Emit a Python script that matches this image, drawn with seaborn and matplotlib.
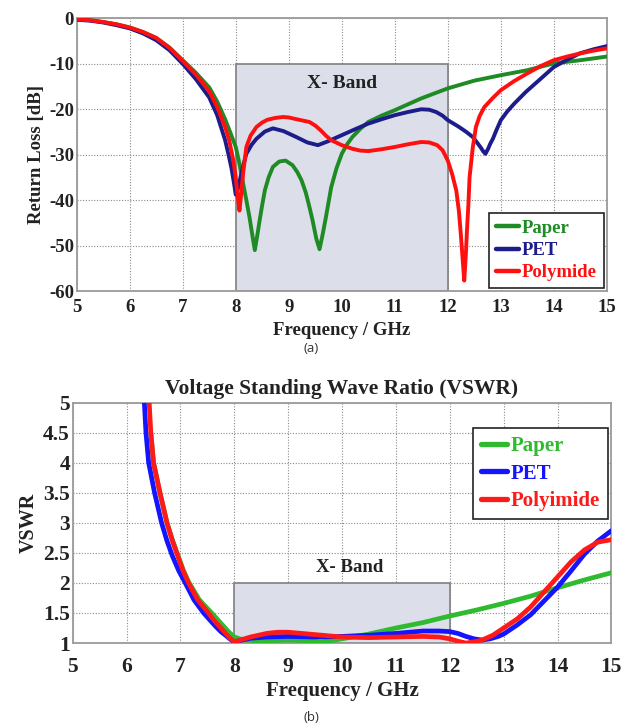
import numpy as np
import pandas as pd
import matplotlib
matplotlib.use("Agg")
import matplotlib.pyplot as plt
from matplotlib.patches import Rectangle
import seaborn as sns

# ---- Return loss (dB) vs frequency (GHz) ----
paper_rl_f = [5.0, 5.25, 5.5, 5.75, 6.0, 6.25, 6.5, 6.75, 7.0, 7.25, 7.5, 7.65, 7.8, 7.9, 8.0,
              8.07, 8.14, 8.2, 8.26, 8.31, 8.36, 8.41, 8.45, 8.5, 8.55, 8.62, 8.7, 8.82, 8.94,
              9.07, 9.16, 9.24, 9.32, 9.39, 9.45, 9.52, 9.58, 9.64, 9.7, 9.75, 9.8, 9.9, 10.0,
              10.1, 10.2, 10.35, 10.5, 10.75, 11.0, 11.25, 11.5, 11.75, 12.0, 12.5, 13.0, 13.5,
              14.0, 14.5, 15.0]
paper_rl = [-0.2, -0.4, -0.8, -1.3, -2.0, -3.0, -4.3, -6.4, -9.2, -12.0, -15.2, -18.3, -22.2,
            -25.2, -28.3, -32.0, -36.4, -40.0, -43.8, -47.5, -51.0, -47.5, -44.5, -41.0, -37.8,
            -35.0, -32.7, -31.5, -31.3, -32.3, -33.8, -35.6, -38.3, -41.5, -44.5, -48.5, -50.8,
            -47.5, -43.8, -40.5, -37.2, -33.0, -29.8, -27.7, -26.1, -24.3, -22.8, -21.4, -20.2,
            -18.9, -17.6, -16.5, -15.4, -13.7, -12.5, -11.4, -9.9, -9.2, -8.4]

pet_rl_f = [5.0, 5.25, 5.5, 5.75, 6.0, 6.25, 6.5, 6.75, 7.0, 7.25, 7.5, 7.65, 7.8, 7.86, 7.92,
            7.97, 8.0, 8.04, 8.1, 8.15, 8.2, 8.3, 8.39, 8.55, 8.7, 8.9, 9.14, 9.35, 9.55, 9.75,
            10.0, 10.25, 10.49, 10.75, 11.0, 11.25, 11.5, 11.65, 11.78, 11.9, 12.0, 12.1, 12.2,
            12.35, 12.47, 12.55, 12.62, 12.67, 12.71, 12.76, 12.8, 12.85, 12.92, 13.0, 13.12,
            13.25, 13.47, 13.75, 14.0, 14.25, 14.49, 14.75, 15.0]
pet_rl = [-0.3, -0.5, -0.9, -1.5, -2.2, -3.3, -4.8, -7.0, -10.0, -13.4, -17.4, -21.3, -26.8,
          -29.8, -33.0, -36.5, -38.8, -37.5, -34.5, -32.0, -29.8, -27.8, -26.5, -24.9, -24.2,
          -24.8, -26.1, -27.3, -27.9, -27.0, -25.7, -24.4, -23.2, -22.2, -21.3, -20.6, -20.0,
          -20.1, -20.6, -21.4, -22.4, -23.1, -23.8, -25.0, -26.1, -27.3, -28.4, -29.3, -29.8,
          -28.7, -27.6, -26.5, -24.5, -22.4, -20.5, -18.8, -16.2, -13.3, -10.7, -9.1, -7.7,
          -6.8, -6.1]

poly_rl_f = [5.0, 5.25, 5.5, 5.75, 6.0, 6.25, 6.5, 6.75, 7.0, 7.25, 7.5, 7.65, 7.8, 7.88, 7.95,
             8.0, 8.04, 8.07, 8.1, 8.14, 8.2, 8.28, 8.39, 8.5, 8.6, 8.75, 8.89, 9.0, 9.15, 9.39,
             9.5, 9.6, 9.7, 9.8, 10.0, 10.2, 10.35, 10.5, 10.75, 11.0, 11.25, 11.5, 11.65, 11.8,
             11.9, 12.0, 12.08, 12.16, 12.21, 12.25, 12.28, 12.31, 12.34, 12.36, 12.39, 12.41,
             12.47, 12.53, 12.6, 12.69, 12.85, 13.0, 13.25, 13.5, 13.75, 14.0, 14.25, 14.5,
             14.75, 15.0]
poly_rl = [-0.2, -0.4, -0.8, -1.3, -2.0, -3.0, -4.3, -6.5, -9.4, -12.4, -16.0, -19.5, -23.9,
           -27.0, -31.0, -35.0, -39.5, -42.3, -39.0, -34.0, -28.3, -25.8, -23.9, -22.9, -22.3,
           -21.9, -21.7, -21.8, -22.2, -22.8, -23.6, -24.6, -25.8, -26.8, -27.9, -28.7, -29.1,
           -29.2, -28.8, -28.3, -27.7, -27.2, -27.3, -27.9, -29.0, -31.3, -34.2, -37.9, -42.5,
           -48.2, -53.0, -57.7, -52.0, -47.0, -40.5, -35.0, -28.5, -23.9, -21.5, -19.5, -17.5,
           -15.8, -13.8, -12.1, -10.5, -9.2, -8.4, -7.7, -7.1, -6.6]

# ---- VSWR vs frequency (GHz) ----
paper_vs_f = [6.45, 6.5, 6.62, 6.75, 6.85, 6.95, 7.05, 7.15, 7.35, 7.58, 7.7, 7.8, 7.9, 8.0,
              8.1, 8.2, 8.35, 8.5, 8.75, 9.0, 9.3, 9.6, 9.8, 10.0, 10.25, 10.5, 10.75, 11.0,
              11.5, 12.0, 12.5, 13.0, 13.5, 14.0, 14.5, 15.0]
paper_vs = [4.5, 4.0, 3.5, 3.0, 2.72, 2.47, 2.22, 2.02, 1.72, 1.5, 1.38, 1.28, 1.18, 1.1,
            1.07, 1.05, 1.04, 1.03, 1.04, 1.05, 1.04, 1.02, 1.04, 1.07, 1.11, 1.15, 1.2, 1.25,
            1.34, 1.45, 1.55, 1.66, 1.78, 1.92, 2.05, 2.17]

pet_vs_f = [6.33, 6.36, 6.41, 6.52, 6.65, 6.75, 6.85, 6.97, 7.09, 7.25, 7.43, 7.55, 7.65, 7.75,
            7.85, 7.93, 8.0, 8.15, 8.3, 8.6, 9.0, 9.5, 10.0, 10.5, 11.0, 11.5, 11.8, 12.0,
            12.15, 12.3, 12.45, 12.6, 12.75, 12.9, 13.0, 13.25, 13.5, 13.75, 14.0, 14.25, 14.5,
            14.75, 15.0]
pet_vs = [5.0, 4.5, 4.0, 3.5, 3.0, 2.7, 2.45, 2.2, 2.0, 1.72, 1.5, 1.38, 1.28, 1.19, 1.12,
          1.06, 1.02, 1.05, 1.08, 1.1, 1.11, 1.1, 1.11, 1.13, 1.16, 1.2, 1.2, 1.19, 1.16, 1.11,
          1.07, 1.05, 1.07, 1.11, 1.15, 1.3, 1.47, 1.7, 1.93, 2.2, 2.48, 2.7, 2.87]

poly_vs_f = [6.42, 6.45, 6.5, 6.62, 6.75, 6.85, 6.95, 7.05, 7.15, 7.32, 7.52, 7.62, 7.72, 7.82,
             7.9, 7.96, 8.02, 8.15, 8.3, 8.45, 8.6, 8.8, 9.0, 9.25, 9.5, 9.75, 10.0, 10.5, 11.0,
             11.5, 11.8, 12.0, 12.15, 12.3, 12.45, 12.6, 12.8, 13.0, 13.25, 13.5, 13.75, 14.0,
             14.25, 14.5, 14.75, 15.0]
poly_vs = [5.0, 4.5, 4.0, 3.5, 3.0, 2.7, 2.45, 2.2, 2.0, 1.72, 1.5, 1.38, 1.28, 1.18, 1.1,
           1.05, 1.02, 1.06, 1.1, 1.13, 1.16, 1.18, 1.18, 1.16, 1.14, 1.12, 1.1, 1.09, 1.1,
           1.11, 1.1, 1.07, 1.03, 1.0, 1.02, 1.05, 1.13, 1.25, 1.4, 1.6, 1.85, 2.1, 2.35, 2.55,
           2.68, 2.72]

x_ticks = list(range(5, 16))
x_tick_labels = [str(v) for v in x_ticks]
rl_ticks = [0, -10, -20, -30, -40, -50, -60]
rl_tick_labels = ["0", "-10", "-20", "-30", "-40", "-50", "-60"]
vs_ticks = [1, 1.5, 2, 2.5, 3, 3.5, 4, 4.5, 5]
vs_tick_labels = ["1", "1.5", "2", "2.5", "3", "3.5", "4", "4.5", "5"]


def long_frame(parts):
    rows = []
    for name, f, v in parts:
        rows.append(pd.DataFrame({"freq": f, "value": v, "material": name}))
    return pd.concat(rows, ignore_index=True)


rl_df = long_frame([("Paper", paper_rl_f, paper_rl),
                    ("PET", pet_rl_f, pet_rl),
                    ("Polymide", poly_rl_f, poly_rl)])
vs_df = long_frame([("Paper", paper_vs_f, paper_vs),
                    ("PET", pet_vs_f, pet_vs),
                    ("Polyimide", poly_vs_f, poly_vs)])

sns.set_theme(style="white")
plt.rcParams["font.family"] = ["Liberation Serif", "DejaVu Serif"]
plt.rcParams["font.weight"] = "bold"
plt.rcParams["axes.unicode_minus"] = False

fig = plt.figure(figsize=(6.23, 7.27), dpi=100)

SPINE = "#9a9a9a"
GRID = "#8c8c8c"
BAND_FILL = "#dcdfea"
BAND_EDGE = "#7f7f7f"
TXT = "#222222"


def style_axes(ax, xpad, ypad):
    for s in ax.spines.values():
        s.set_color(SPINE)
        s.set_linewidth(1.3)
    ax.grid(True, linestyle=(0, (1, 1.5)), color=GRID, linewidth=0.8)
    ax.set_axisbelow(True)
    ax.tick_params(length=0, colors=TXT)
    ax.tick_params(axis="x", pad=xpad)
    ax.tick_params(axis="y", pad=ypad)


# ---------------- (a) Return loss ----------------
ax1 = fig.add_axes([0.1231, 0.5997, 0.851, 0.375])
ax1.add_patch(Rectangle((8, -60), 4, 50, facecolor=BAND_FILL, edgecolor=BAND_EDGE,
                        linewidth=1.2, zorder=1))
pal1 = {"Paper": "#1f8b24", "PET": "#1c1c8a", "Polymide": "#ff1010"}
sns.lineplot(data=rl_df, x="freq", y="value", hue="material", palette=pal1,
             estimator=None, sort=False, linewidth=2.8, ax=ax1, zorder=3, legend=False)
ax1.set_xlim(5, 15)
ax1.set_ylim(-60, 0)
ax1.set_xticks(x_ticks, x_tick_labels, fontsize=13.5, fontweight="bold")
ax1.set_yticks(rl_ticks, rl_tick_labels, fontsize=13.5, fontweight="bold")
style_axes(ax1, 6, 2)
ax1.set_xlabel("Frequency / GHz", fontsize=13.5, fontweight="bold", labelpad=4, color=TXT)
ax1.set_ylabel("Return Loss [dB]", fontsize=13.5, fontweight="bold", labelpad=3, color=TXT)
ax1.text(10, -14.3, "X- Band", ha="center", va="center", fontsize=14,
         fontweight="bold", color=TXT, zorder=4)
handles1 = [plt.Line2D([], [], color=pal1[k], linewidth=3.2) for k in pal1]
leg1 = ax1.legend(handles1, list(pal1), loc="lower right",
                  bbox_to_anchor=(0.994, 0.011), frameon=True, fancybox=False,
                  edgecolor=TXT, framealpha=1, handlelength=1.25,
                  handletextpad=0.15, borderpad=0.35, labelspacing=0.28,
                  borderaxespad=0, prop={"size": 13.5, "weight": "bold"})
leg1.get_frame().set_linewidth(1.2)
for t, k in zip(leg1.get_texts(), pal1):
    t.set_color(pal1[k])
fig.text(0.4995, 0.52, "(a)", ha="center", va="center", fontsize=9.5,
         family="Open Sans", fontweight="normal", color="#333333")

# ---------------- (b) VSWR ----------------
ax2 = fig.add_axes([0.1167, 0.1155, 0.8647, 0.3306])
ax2.add_patch(Rectangle((8, 1), 4, 1, facecolor=BAND_FILL, edgecolor=BAND_EDGE,
                        linewidth=1.2, zorder=1))
pal2 = {"Paper": "#2fba2f", "PET": "#1414ff", "Polyimide": "#ff1a1a"}
sns.lineplot(data=vs_df, x="freq", y="value", hue="material", palette=pal2,
             estimator=None, sort=False, linewidth=3.4, ax=ax2, zorder=3, legend=False)
ax2.set_xlim(5, 15)
ax2.set_ylim(1, 5)
ax2.set_xticks(x_ticks, x_tick_labels, fontsize=15.5, fontweight="bold")
ax2.set_yticks(vs_ticks, vs_tick_labels, fontsize=15.5, fontweight="bold")
style_axes(ax2, 10, 2)
ax2.set_xlabel("Frequency / GHz", fontsize=15, fontweight="bold", labelpad=3, color=TXT)
ax2.set_ylabel("VSWR", fontsize=14.5, fontweight="bold", labelpad=3, color=TXT)
ax2.set_title("Voltage Standing Wave Ratio (VSWR)", fontsize=15.5, fontweight="bold",
              pad=6, color=TXT)
ax2.text(10.15, 2.26, "X- Band", ha="center", va="center", fontsize=13.5,
         fontweight="bold", color=TXT, zorder=4)
handles2 = [plt.Line2D([], [], color=pal2[k], linewidth=3.8) for k in pal2]
leg2 = ax2.legend(handles2, list(pal2), loc="upper right",
                  bbox_to_anchor=(0.994, 0.895), frameon=True, fancybox=False,
                  edgecolor=TXT, framealpha=1, handlelength=1.25,
                  handletextpad=0.15, borderpad=0.4, labelspacing=0.35,
                  borderaxespad=0, prop={"size": 15, "weight": "bold"})
leg2.get_frame().set_linewidth(1.2)
for t, k in zip(leg2.get_texts(), pal2):
    t.set_color(pal2[k])
fig.text(0.4995, 0.0124, "(b)", ha="center", va="center", fontsize=9.5,
         family="Open Sans", fontweight="normal", color="#333333")

fig.savefig("out.png", dpi=100)
